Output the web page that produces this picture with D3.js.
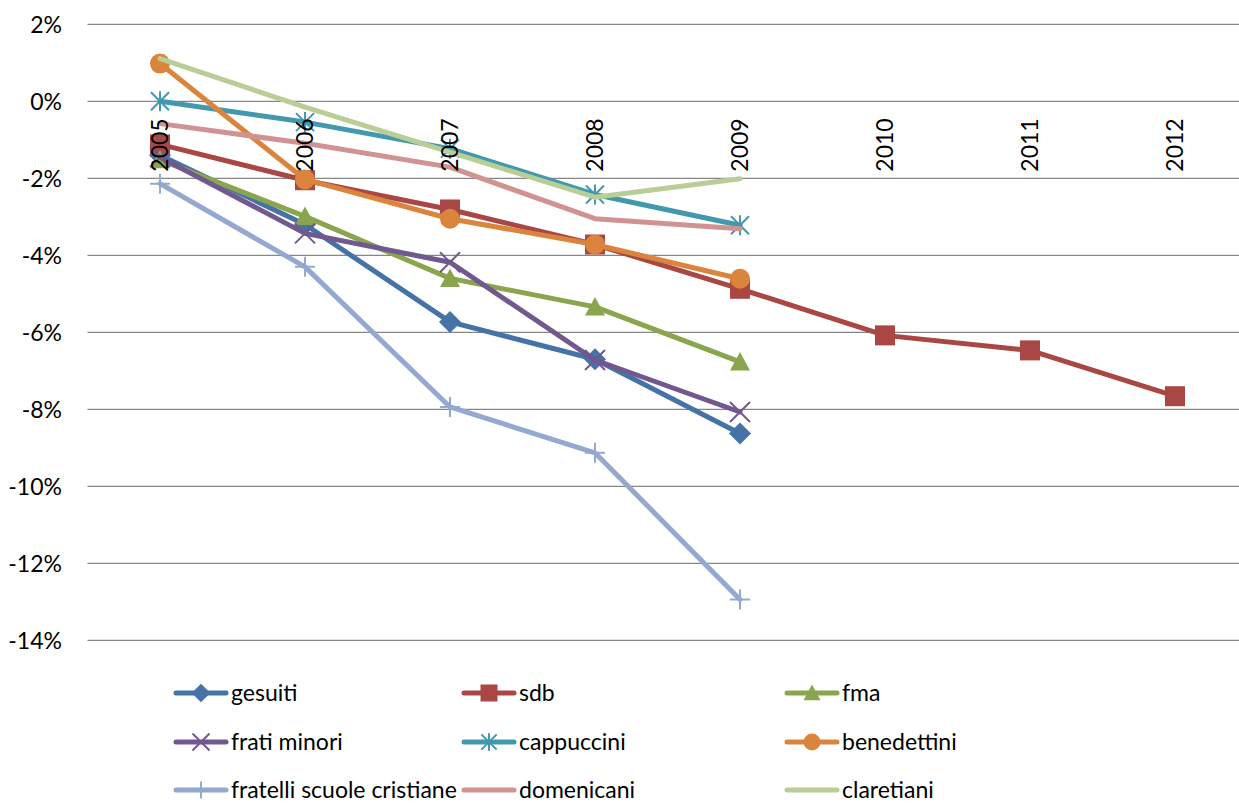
<!DOCTYPE html>
<html><head><meta charset="utf-8">
<script src="https://cdn.jsdelivr.net/npm/d3@7"></script>
<style>body{margin:0;background:#fff}svg{display:block}text{font-family:Lato,"Open Sans",sans-serif;fill:#000}</style>
</head><body><svg id="c" width="1239" height="804"></svg>
<script>
const categories = ["2005","2006","2007","2008","2009","2010","2011","2012"];
const yTicks = [2,0,-2,-4,-6,-8,-10,-12,-14];
const seriesNames = ["gesuiti","sdb","fma","frati minori","cappuccini","benedettini","fratelli scuole cristiane","domenicani","claretiani"];
const gesuiti = [-1.40,-3.20,-5.73,-6.70,-8.63];
const sdb = [-1.12,-2.05,-2.81,-3.72,-4.87,-6.08,-6.47,-7.66];
const fma = [-1.52,-2.99,-4.60,-5.34,-6.77];
const fratiMinori = [-1.45,-3.43,-4.18,-6.72,-8.07];
const cappuccini = [0.0,-0.54,-1.23,-2.42,-3.22];
const benedettini = [0.98,-2.03,-3.05,-3.72,-4.61];
const fratelli = [-2.14,-4.30,-7.94,-9.13,-12.94];
const domenicani = [-0.58,-1.09,-1.71,-3.05,-3.31];
const claretiani = [1.11,-0.15,-1.32,-2.49,-2.01];
const values = [gesuiti,sdb,fma,fratiMinori,cappuccini,benedettini,fratelli,domenicani,claretiani];
const colors = ["#4572A7","#AA4643","#89A54E","#71588F","#4198AF","#DB843D","#93A9CF","#D19392","#B9CD96"];
const markers = ["diamond","square","triangle","x","asterisk","circle","plus","none","none"];

const svg = d3.select("#c");
const x = d3.scaleBand().domain(categories).range([87.5,1247.5]);
const y = d3.scaleLinear().domain([-14,2]).range([640.3,24.3]);
const cx = c => x(c) + x.bandwidth()/2;
const FS = 23;

// gridlines
svg.append("g").selectAll("line").data(yTicks).join("line")
  .attr("x1",87.5).attr("x2",1239).attr("y1",d=>y(d)).attr("y2",d=>y(d))
  .attr("stroke","#868686").attr("stroke-width",1.3);

// y labels
const yAxis = d3.axisLeft(y).tickValues(yTicks).tickFormat(d=>d+"%").tickSize(0).tickPadding(0);
const ga = svg.append("g").attr("transform","translate(62,0)").call(yAxis);
ga.select(".domain").remove();
ga.selectAll("text").attr("font-size",FS).attr("dy","0.35em").style("font-family","Lato,'Open Sans',sans-serif");

function drawMarker(g, type, px, py, col, k){
  k = k||1;
  if(type==="diamond"){
    const s=11*k;
    g.append("path").attr("d",`M${px},${py-s}L${px+s},${py}L${px},${py+s}L${px-s},${py}Z`).attr("fill",col);
  } else if(type==="square"){
    const s=10*k;
    g.append("rect").attr("x",px-s).attr("y",py-s).attr("width",2*s).attr("height",2*s).attr("fill",col);
  } else if(type==="triangle"){
    const s=10*k;
    g.append("path").attr("d",`M${px},${py-s}L${px+s},${py+s*0.85}L${px-s},${py+s*0.85}Z`).attr("fill",col);
  } else if(type==="circle"){
    g.append("circle").attr("cx",px).attr("cy",py).attr("r",10*k).attr("fill",col);
  } else if(type==="x"){
    const s=10*k;
    g.append("path").attr("d",`M${px-s},${py-s}L${px+s},${py+s}M${px-s},${py+s}L${px+s},${py-s}`).attr("stroke",col).attr("stroke-width",2);
  } else if(type==="asterisk"){
    const s=9*k;
    g.append("path").attr("d",`M${px-s},${py-s}L${px+s},${py+s}M${px-s},${py+s}L${px+s},${py-s}M${px},${py-s-1}L${px},${py+s+1}`).attr("stroke",col).attr("stroke-width",2);
  } else if(type==="plus"){
    const s=10*k;
    g.append("path").attr("d",`M${px-s},${py}L${px+s},${py}M${px},${py-s}L${px},${py+s}`).attr("stroke",col).attr("stroke-width",2);
  }
}

const line = d3.line().x((d,i)=>cx(categories[i])).y(d=>y(d));
values.forEach((vals,si)=>{
  const g = svg.append("g");
  g.append("path").attr("d",line(vals)).attr("fill","none").attr("stroke",colors[si])
    .attr("stroke-width",5).attr("stroke-linejoin","round").attr("stroke-linecap","round");
  vals.forEach((v,i)=>drawMarker(g,markers[si],cx(categories[i]),y(v),colors[si]));
});

// x labels rotated at 0 line (drawn on top)
svg.append("g").selectAll("text").data(categories).join("text")
  .attr("transform",d=>`translate(${cx(d)+8},${y(0)+17}) rotate(-90)`)
  .attr("text-anchor","end").attr("font-size",FS).text(d=>d);

// legend
const colX = [176,464,787];
const rowY = [693,742,790];
seriesNames.forEach((n,i)=>{
  const lx = colX[i%3], ly = rowY[Math.floor(i/3)];
  const g = svg.append("g");
  g.append("line").attr("x1",lx).attr("x2",lx+50).attr("y1",ly).attr("y2",ly)
    .attr("stroke",colors[i]).attr("stroke-width",5).attr("stroke-linecap","round");
  drawMarker(g,markers[i],lx+25,ly,colors[i],0.85);
  g.append("text").attr("x",lx+55).attr("y",ly).attr("dy","0.35em").attr("font-size",FS).text(n);
});
</script></body></html>
